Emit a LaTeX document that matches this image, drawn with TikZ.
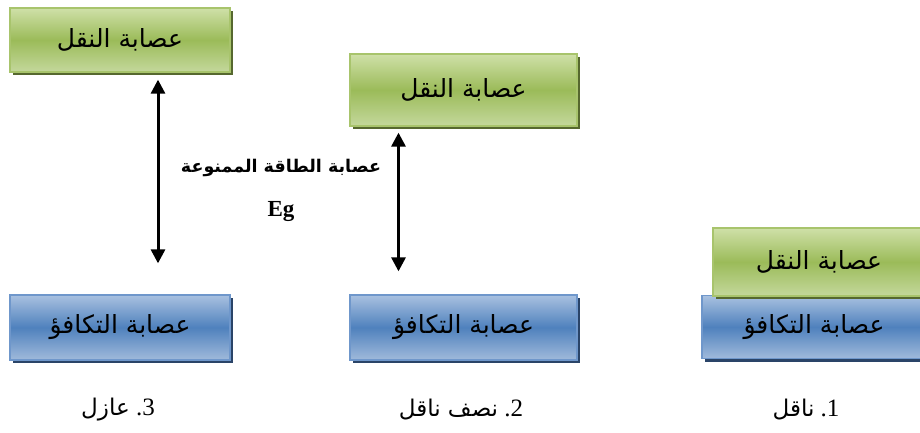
\documentclass[tikz,border=0pt]{standalone}
\usepackage{fontspec}
\setmainfont{Liberation Serif}
\newfontfamily\arfont[Script=Arabic]{DejaVu Sans}
\TeXXeTstate=1
\usetikzlibrary{arrows.meta,shadows}
\definecolor{gtop}{HTML}{CFE0A8}
\definecolor{gmid}{HTML}{9BBB59}
\definecolor{gbot}{HTML}{C4D89C}
\definecolor{gborder}{HTML}{A8C46C}
\definecolor{gshadow}{HTML}{56682F}
\definecolor{btop}{HTML}{A9C1E0}
\definecolor{bmid}{HTML}{4F81BD}
\definecolor{bbot}{HTML}{A0BADB}
\definecolor{bborder}{HTML}{6F97CB}
\definecolor{bshadow}{HTML}{2A4468}
\begin{document}
\begin{tikzpicture}[x=1pt,y=-1pt,
  band/.style={line width=1.3pt, inner sep=0pt, font=\arfont\fontsize{25}{28}\selectfont},
  greenband/.style={band, draw=gborder, top color=gtop, bottom color=gbot, middle color=gmid,
     drop shadow={shadow xshift=3pt, shadow yshift=-3pt, fill=gshadow, opacity=1}},
  blueband/.style={band, draw=bborder, top color=btop, bottom color=bbot, middle color=bmid,
     drop shadow={shadow xshift=3pt, shadow yshift=-3pt, fill=bshadow, opacity=1}},
  arr/.style={{Triangle[length=14pt,width=14pt]}-{Triangle[length=14pt,width=14pt]}, line width=3pt},
  lbl/.style={font=\fontsize{25}{28}\selectfont},
]
\useasboundingbox (0,0) rectangle (920,432);
\clip (0,0) rectangle (920,432);
\fill[white] (0,0) rectangle (920,432);

% 3. insulator
\node[greenband, minimum width=220pt, minimum height=64pt] (g3) at (120,40) {\beginR عصابة النقل\endR};
\node[blueband, minimum width=220pt, minimum height=65pt] (b3) at (120,327.5) {\beginR عصابة التكافؤ\endR};
\draw[arr] ([xshift=38pt,yshift=-7pt]g3.south) -- ([xshift=38pt,yshift=31pt]b3.north);

% 2. semiconductor
\node[greenband, minimum width=227pt, minimum height=72pt] (g2) at (463.5,90) {\beginR عصابة النقل\endR};
\node[blueband, minimum width=227pt, minimum height=65pt] (b2) at (463.5,327.5) {\beginR عصابة التكافؤ\endR};
\draw[arr] ([xshift=-65pt,yshift=-6pt]g2.south) -- ([xshift=-65pt,yshift=23pt]b2.north);

\node[font=\arfont\bfseries\fontsize{17.5}{20}\selectfont] (eglbl) at (281,168) {\beginR عصابة الطاقة الممنوعة\endR};
\node[font=\bfseries\fontsize{23}{26}\selectfont] (eg) at (281,212) {Eg};

% 1. conductor
\node[blueband, minimum width=224pt, minimum height=63pt] (b1) at (814,327) {\beginR عصابة التكافؤ\endR};
\node[greenband, minimum width=212pt, minimum height=68pt] (g1) at (819,262) {\beginR عصابة النقل\endR};

% labels
\node[lbl] (l3) at (118,410) {{\arfont\fontsize{23}{26}\selectfont\beginR عازل\endR}~.3};
\node[lbl] (l2) at (461,410) {{\arfont\fontsize{23}{26}\selectfont\beginR نصف ناقل\endR}~.2};
\node[lbl] (l1) at (806,410) {{\arfont\fontsize{23}{26}\selectfont\beginR ناقل\endR}~.1};
\end{tikzpicture}
\end{document}
